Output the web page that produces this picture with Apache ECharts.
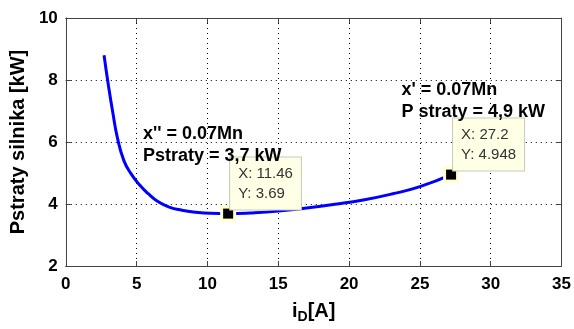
<!DOCTYPE html>
<html>
<head>
<meta charset="utf-8">
<script src="https://cdn.jsdelivr.net/npm/echarts@6/dist/echarts.min.js"></script>
<style>
  html, body { margin: 0; padding: 0; background: #fff; }
  #chart { width: 574px; height: 329px; }
</style>
</head>
<body>
<div id="chart"></div>
<script>
  // krzywa strat silnika
  var currentA = [2.7, 3.0, 3.3, 3.66, 4.1, 4.6, 5.2, 5.8, 6.5, 7.3, 8.2, 9.2, 10.2, 11.46, 13, 15, 17, 19, 21, 23, 25, 27.2];
  var lossKW   = [8.8, 7.85, 7.0, 6.1, 5.4, 4.98, 4.62, 4.34, 4.08, 3.9, 3.8, 3.735, 3.70, 3.69, 3.71, 3.77, 3.87, 3.99, 4.13, 4.32, 4.56, 4.948];

  // punkty z opisem (datatip)
  var tipX = [11.46, 27.2];
  var tipY = [3.69, 4.948];

  // opisy tekstowe
  var noteX = [5.45, 23.7];
  var noteY = [5.89, 7.31];
  var noteText = ["x'' = 0.07Mn\nPstraty = 3,7 kW", "x' = 0.07Mn\nP straty = 4,9 kW"];

  var xTicks = { min: 0, max: 35, interval: 5 };
  var yTicks = { min: 2, max: 10, interval: 2 };

  var curve = currentA.map(function (x, i) { return [x, lossKW[i]]; });
  var tips = tipX.map(function (x, i) { return [x, tipY[i]]; });
  var notes = noteX.map(function (x, i) { return { value: [x, noteY[i]], text: noteText[i] }; });

  var font = 'Liberation Sans, Arial, sans-serif';
  var frameColor = '#444';

  var myChart = echarts.init(document.getElementById('chart'));
  var option = {
    backgroundColor: '#fff',
    animation: false,
    grid: { left: 61, right: 12, top: 18, bottom: 61 },
    xAxis: [{
      type: 'value',
      min: xTicks.min, max: xTicks.max, interval: xTicks.interval,
      name: '{i|i}{sub|D}{n|[A]}',
      nameLocation: 'middle',
      nameGap: 32,
      nameTextStyle: {
        rich: {
          i: { fontFamily: font, fontWeight: 'bold', fontSize: 20, color: '#000' },
          sub: { fontFamily: font, fontWeight: 'bold', fontSize: 14, color: '#000', padding: [12, 0, 0, 0] },
          n: { fontFamily: font, fontWeight: 'bold', fontSize: 20, color: '#000' }
        }
      },
      axisLine: { show: true, onZero: false, lineStyle: { color: frameColor, width: 1 } },
      axisTick: { show: true, inside: true, length: 5, lineStyle: { color: frameColor } },
      axisLabel: { color: '#000', fontFamily: font, fontWeight: 'bold', fontSize: 17, margin: 10 },
      splitLine: { show: true, lineStyle: { color: '#000', type: [1, 4], width: 1 } }
    }, {
      type: 'value',
      position: 'top',
      min: xTicks.min, max: xTicks.max, interval: xTicks.interval,
      axisLine: { show: true, onZero: false, lineStyle: { color: frameColor, width: 1 } },
      axisTick: { show: true, inside: true, length: 5, lineStyle: { color: frameColor } },
      axisLabel: { show: false },
      splitLine: { show: false }
    }],
    yAxis: [{
      type: 'value',
      min: yTicks.min, max: yTicks.max, interval: yTicks.interval,
      name: 'Pstraty silnika [kW]',
      nameLocation: 'middle',
      nameGap: 34,
      nameTextStyle: { color: '#000', fontFamily: font, fontWeight: 'bold', fontSize: 20 },
      axisLine: { show: true, onZero: false, lineStyle: { color: frameColor, width: 1 } },
      axisTick: { show: true, inside: true, length: 5, lineStyle: { color: frameColor } },
      axisLabel: { color: '#000', fontFamily: font, fontWeight: 'bold', fontSize: 17, margin: 8 },
      splitLine: { show: true, lineStyle: { color: '#000', type: [1, 4], width: 1 } }
    }, {
      type: 'value',
      position: 'right',
      min: yTicks.min, max: yTicks.max, interval: yTicks.interval,
      axisLine: { show: true, onZero: false, lineStyle: { color: frameColor, width: 1 } },
      axisTick: { show: true, inside: true, length: 5, lineStyle: { color: frameColor } },
      axisLabel: { show: false },
      splitLine: { show: false }
    }],
    series: [{
      type: 'line',
      data: curve,
      smooth: 0.5,
      symbol: 'none',
      lineStyle: { color: '#0000ff', width: 3 },
      z: 3
    }, {
      // jasne tlo pod znacznikiem
      type: 'scatter',
      data: tips,
      symbol: 'rect',
      symbolSize: 16,
      itemStyle: { color: '#ffffcc', opacity: 1 },
      z: 4
    }, {
      type: 'scatter',
      data: tips,
      symbol: 'rect',
      symbolSize: 10,
      itemStyle: { color: '#000', opacity: 1 },
      label: {
        show: true,
        position: [7, -51],
        formatter: function (p) { return 'X: ' + p.value[0] + '\nY: ' + p.value[1]; },
        fontFamily: font,
        fontSize: 15,
        lineHeight: 20,
        color: '#333',
        backgroundColor: '#ffffe6',
        borderColor: '#c8c8b8',
        borderWidth: 1,
        padding: [6, 8, 6, 8]
      },
      z: 5
    }, {
      type: 'scatter',
      data: notes,
      symbolSize: 0,
      silent: true,
      itemStyle: { opacity: 1 },
      label: {
        show: true,
        position: 'right',
        distance: 0,
        formatter: function (p) { return p.data.text; },
        fontFamily: font,
        fontWeight: 'bold',
        fontSize: 18,
        lineHeight: 22,
        color: '#000'
      },
      z: 6
    }]
  };
  myChart.setOption(option);
</script>
</body>
</html>
